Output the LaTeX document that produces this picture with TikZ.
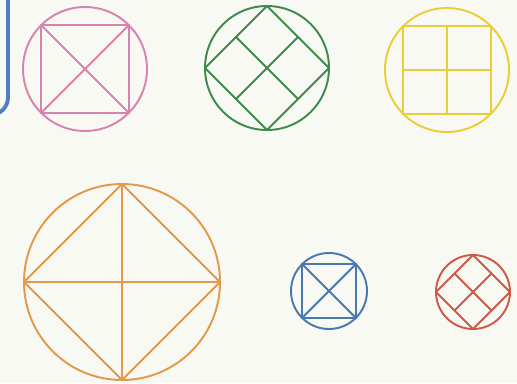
\documentclass[tikz,border=0pt]{standalone}
\usepackage{tikz}
\usepackage{xcolor}
\definecolor{pagecol}{HTML}{F9F9F4}
\definecolor{pinkcol}{HTML}{D883AE}
\definecolor{greencol}{HTML}{3E8A4E}
\definecolor{yellowcol}{HTML}{E8CF3A}
\definecolor{orangecol}{HTML}{E4994A}
\definecolor{bluecol}{HTML}{4A78B0}
\definecolor{redcol}{HTML}{CC5A48}
\definecolor{framecol}{HTML}{4F7FC0}

\begin{document}
\begin{tikzpicture}[x=0.02cm, y=-0.02cm,
  trace/.style={line width=1.1pt, line join=round, line cap=round}]
  \useasboundingbox (0,0) rectangle (517,383);
  \fill[pagecol] (0,0) rectangle (517,383);
  \draw[framecol, line width=2.2pt, rounded corners=10pt] (-30,-20) rectangle (8,115);
  % pink: square with diagonals
  \begin{scope}[shift={(85,69)}, trace, pinkcol]
    \draw (0,0) circle (62);
    \draw (45:62) -- (135:62) -- (225:62) -- (315:62) -- cycle;
    \draw (45:62) -- (225:62);
    \draw (135:62) -- (315:62);
  \end{scope}
  % green: diamond cut in four
  \begin{scope}[shift={(267,68)}, trace, greencol]
    \draw (0,0) circle (62);
    \draw (0:62) -- (90:62) -- (180:62) -- (270:62) -- cycle;
    \draw (31,31) -- (-31,-31);
    \draw (-31,31) -- (31,-31);
  \end{scope}
  % yellow: square cut in four
  \begin{scope}[shift={(447,70)}, trace, yellowcol]
    \draw (0,0) circle (62);
    \draw (45:62) -- (135:62) -- (225:62) -- (315:62) -- cycle;
    \draw (0,-43.8) -- (0,43.8);
    \draw (-43.8,0) -- (43.8,0);
  \end{scope}
  % orange: diamond with diameters
  \begin{scope}[shift={(122,282)}, trace, orangecol]
    \draw (0,0) circle (98);
    \draw (0:98) -- (90:98) -- (180:98) -- (270:98) -- cycle;
    \draw (0,-98) -- (0,98);
    \draw (-98,0) -- (98,0);
  \end{scope}
  % blue: small square with diagonals
  \begin{scope}[shift={(329,291)}, trace, bluecol]
    \draw (0,0) circle (38);
    \draw (45:38) -- (135:38) -- (225:38) -- (315:38) -- cycle;
    \draw (45:38) -- (225:38);
    \draw (135:38) -- (315:38);
  \end{scope}
  % red: small diamond cut in four
  \begin{scope}[shift={(473,292)}, trace, redcol]
    \draw (0,0) circle (37);
    \draw (0:37) -- (90:37) -- (180:37) -- (270:37) -- cycle;
    \draw (18.5,18.5) -- (-18.5,-18.5);
    \draw (-18.5,18.5) -- (18.5,-18.5);
  \end{scope}
\end{tikzpicture}
\end{document}
